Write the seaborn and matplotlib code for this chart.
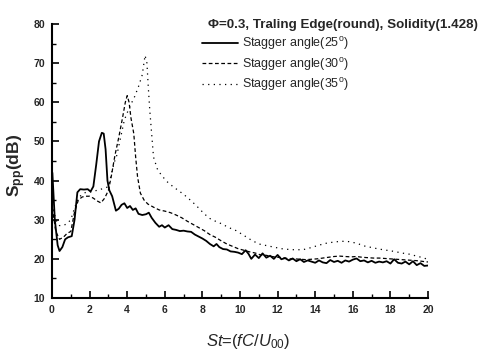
import matplotlib
matplotlib.use("Agg")
import matplotlib.pyplot as plt
import seaborn as sns
import pandas as pd
from matplotlib.ticker import MultipleLocator
from matplotlib.lines import Line2D

x25 = [0.02, 0.15, 0.3, 0.4, 0.55, 0.7, 0.85, 1.05, 1.2, 1.35, 1.5, 1.7, 1.9, 2.05, 2.2, 2.35, 2.5, 2.65, 2.75,
       2.85, 2.95, 3.05, 3.2, 3.4, 3.55, 3.7, 3.85, 4.0, 4.15, 4.3, 4.45, 4.6, 4.8, 5.0, 5.15, 5.3, 5.5, 5.7,
       5.85, 6.0, 6.2, 6.4, 6.6, 6.8, 7.0, 7.2, 7.4, 7.6, 7.8, 8.0, 8.2, 8.4, 8.6, 8.75, 8.9, 9.1, 9.3, 9.5,
       9.7, 9.9, 10.1, 10.3, 10.45, 10.6, 10.8, 11.0, 11.2, 11.4, 11.6, 11.8, 12.0, 12.2, 12.4, 12.6, 12.8,
       13.0, 13.2, 13.4, 13.6, 13.8, 14.0, 14.2, 14.4, 14.6, 14.8, 15.0, 15.2, 15.4, 15.6, 15.8, 16.0, 16.2,
       16.4, 16.6, 16.8, 17.0, 17.2, 17.4, 17.6, 17.8, 18.0, 18.2, 18.4, 18.6, 18.8, 19.0, 19.2, 19.4, 19.6,
       19.8, 20.0]
y25 = [42, 30, 23.5, 22, 23, 25, 25.5, 25.8, 30, 37, 37.8, 37.7, 37.8, 37.2, 38.5, 44, 50, 52.2, 52,
       48, 40, 37.5, 36, 32.3, 32.8, 33.8, 34.2, 33, 33.5, 32.5, 32.9, 31.5, 31.2, 31.4, 31.8, 30.5, 29.2, 28.2,
       28.6, 28.0, 28.6, 27.6, 27.4, 27.1, 27.2, 27.0, 26.9, 26.2, 25.7, 25.2, 24.6, 23.8, 23.2, 23.8, 23.0,
       22.5, 22.4, 21.9, 21.8, 21.6, 21.2, 22.2, 21.3, 20.0, 21.1, 20.2, 21.4, 20.3, 20.8, 20.0, 21.0, 19.9,
       20.2, 19.6, 20.1, 19.4, 19.9, 19.2, 19.6, 19.3, 19.0, 19.6, 19.1, 18.9, 19.7, 19.2, 19.5, 19.0, 19.6,
       19.3, 19.8, 20.1, 19.4, 19.6, 19.1, 19.5, 19.0, 19.3, 19.1, 19.4, 18.8, 19.9, 19.0, 18.8, 19.3, 18.6,
       19.4, 18.4, 18.9, 18.2, 18.3]

x30 = [0.02, 0.2, 0.4, 0.6, 0.8, 1.0, 1.2, 1.4, 1.6, 1.8, 2.0, 2.2, 2.4, 2.6, 2.8, 3.0, 3.15, 3.35, 3.55,
       3.75, 3.9, 4.0, 4.1, 4.2, 4.35, 4.45, 4.55, 4.7, 4.9, 5.1, 5.4, 5.7, 6.0, 6.3, 6.6, 6.9, 7.2, 7.5,
       7.8, 8.1, 8.4, 8.7, 9.0, 9.3, 9.6, 9.9, 10.2, 10.5, 10.8, 11.1, 11.4, 11.7, 12.0, 12.3, 12.6, 12.9,
       13.2, 13.5, 13.8, 14.1, 14.4, 14.7, 15.0, 15.3, 15.6, 15.9, 16.2, 16.5, 16.8, 17.1, 17.4, 17.7, 18.0,
       18.3, 18.6, 18.9, 19.2, 19.5, 19.8, 20.0]
y30 = [33, 27, 25, 25.5, 26.5, 27, 32, 35, 35.8, 36, 36, 35.5, 34.8, 34.3, 35.5, 37.5, 41, 46.5, 51,
       56, 60, 61.7, 60, 56, 52, 46, 41, 36.8, 35, 34, 33.2, 32.5, 32.2, 31.8, 31.2, 30.5, 29.6, 28.8,
       28.0, 27.2, 26.2, 25.5, 24.6, 23.8, 23.2, 22.6, 22.2, 21.8, 21.5, 21.0, 20.9, 20.6, 20.4, 20.3, 20.0,
       20.0, 19.9, 19.8, 19.9, 20.0, 20.2, 20.4, 20.6, 20.7, 20.6, 20.5, 20.6, 20.4, 20.3, 20.2, 20.2, 20.1,
       20.0, 19.9, 19.8, 19.7, 19.6, 19.5, 19.3, 19.2]

x35 = [0.02, 0.2, 0.4, 0.6, 0.8, 1.0, 1.2, 1.4, 1.6, 1.8, 2.0, 2.2, 2.4, 2.6, 2.8, 3.0, 3.15, 3.3, 3.45,
       3.65, 3.85, 4.1, 4.4, 4.6, 4.8, 4.95, 5.05, 5.12, 5.2, 5.3, 5.4, 5.6, 5.8, 6.1, 6.45, 6.8, 7.15,
       7.5, 7.8, 8.1, 8.4, 8.7, 9.0, 9.4, 9.8, 10.2, 10.6, 11.0, 11.4, 11.8, 12.2, 12.6, 13.0, 13.4, 13.8,
       14.2, 14.6, 15.0, 15.4, 15.8, 16.2, 16.6, 17.0, 17.4, 17.8, 18.2, 18.6, 19.0, 19.4, 19.8, 20.0]
y35 = [34, 30, 28.5, 28.5, 29, 30, 33, 35.5, 36.5, 37, 37, 37.3, 37.5, 37.8, 38, 38.5, 41.5, 44.5, 46.5,
       51, 55.5, 58.5, 61.5, 64, 67, 72, 70, 64, 58, 52, 46, 43, 41.5, 39.8, 38.4, 37.2, 35.9,
       34.4, 33, 31.5, 30.3, 29.6, 29, 28, 27.2, 26, 24.8, 23.8, 23.4, 23.0, 22.6, 22.4, 22.3, 22.4, 22.9,
       23.5, 24.0, 24.3, 24.5, 24.4, 24.0, 23.3, 22.9, 22.5, 22.2, 21.9, 21.5, 21.2, 20.7, 20.2, 19.8]

labels = [r"Stagger angle(25$^{\mathrm{o}}$)", r"Stagger angle(30$^{\mathrm{o}}$)",
          r"Stagger angle(35$^{\mathrm{o}}$)"]
title_text = "\u03a6=0.3, Traling Edge(round), Solidity(1.428)"

df = pd.concat([
    pd.DataFrame({"St": x25, "Spp": y25, "case": labels[0]}),
    pd.DataFrame({"St": x30, "Spp": y30, "case": labels[1]}),
    pd.DataFrame({"St": x35, "Spp": y35, "case": labels[2]}),
], ignore_index=True)

sns.set_theme(style="white")
plt.rcParams["font.family"] = ["Liberation Sans", "DejaVu Sans"]
plt.rcParams["mathtext.fontset"] = "custom"
plt.rcParams["mathtext.rm"] = "Liberation Sans"
plt.rcParams["mathtext.it"] = "Liberation Sans:italic"
plt.rcParams["mathtext.bf"] = "Liberation Sans:bold"

fig = plt.figure(figsize=(4.89, 3.51), dpi=100)
ax = fig.add_axes([52 / 489, 1 - 298 / 351, (428 - 52) / 489, (298 - 24) / 351])

styles = {labels[0]: "", labels[1]: (3, 2), labels[2]: (1, 3.5)}
sns.lineplot(data=df, x="St", y="Spp", hue="case", style="case", dashes=styles,
             palette=["black", "black", "black"], sort=False, estimator=None, ax=ax, legend=False)
widths = [1.3, 0.9, 0.9]
for ln, w in zip(ax.get_lines(), widths):
    ln.set_linewidth(w)

ax.set_xlim(0, 20)
ax.set_ylim(10, 80)
ax.xaxis.set_major_locator(MultipleLocator(2))
ax.xaxis.set_minor_locator(MultipleLocator(1))
ax.yaxis.set_major_locator(MultipleLocator(10))
ax.yaxis.set_minor_locator(MultipleLocator(5))
ax.tick_params(which="major", direction="in", length=5, width=1.2, labelsize=7.5, pad=5, color="black")
ax.tick_params(which="minor", direction="in", length=3, width=1.0, color="black")
ax.tick_params(axis="x", which="both", bottom=True, top=False)
ax.tick_params(axis="y", which="both", left=True, right=False)
for lab in ax.get_xticklabels() + ax.get_yticklabels():
    lab.set_fontweight("bold")
for s in ["top", "right"]:
    ax.spines[s].set_visible(False)
for s in ["left", "bottom"]:
    ax.spines[s].set_color("black")
    ax.spines[s].set_linewidth(1.5)

ax.set_xlabel(r"$\mathit{St}$=$\mathit{(fC/U}_{\mathit{00}}$)", fontsize=12)
ax.xaxis.set_label_coords(0.521, -0.125, transform=ax.transAxes)
ax.xaxis.label.set_va("top")
ax.set_ylabel(r"S$_{\mathbf{pp}}$(dB)", fontsize=12.5, fontweight="bold")
ax.yaxis.set_label_coords(17 / 489, 1 - 165 / 351, transform=fig.transFigure)
ax.yaxis.label.set_va("center")
ax.yaxis.label.set_ha("center")

handles = [Line2D([], [], color="black", lw=1.3),
           Line2D([], [], color="black", lw=0.9, dashes=(3, 2)),
           Line2D([], [], color="black", lw=0.9, dashes=(1, 3.5))]
fig.text(208 / 489, 1 - 25 / 351, title_text,
         fontsize=9.6, fontweight="bold", ha="left", va="center")
fig.legend(handles, labels, loc="upper left", bbox_to_anchor=(202 / 489, 1 - 35 / 351),
           frameon=False, fontsize=9, handlelength=2.9, handletextpad=0.3, labelspacing=0.3,
           borderaxespad=0, borderpad=0)

fig.savefig("out.png", dpi=100)
